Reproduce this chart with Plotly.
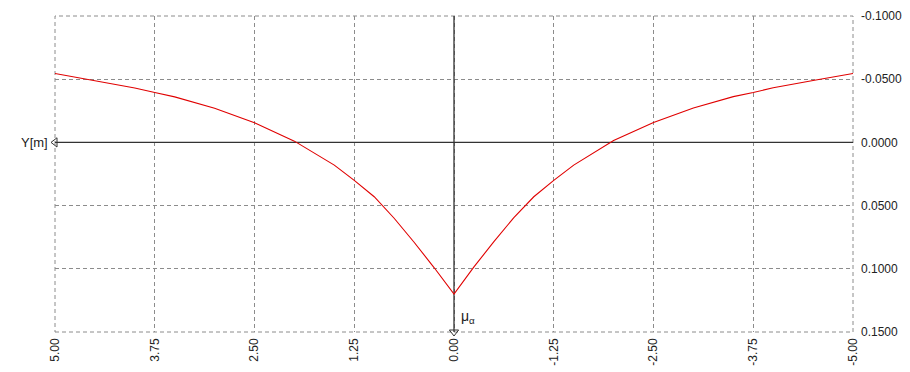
import plotly.graph_objects as go

# data (mu_alpha, Y[m])
mu = [5.00, 4.50, 4.00, 3.75, 3.50, 3.00, 2.50, 2.00, 1.50, 1.25, 1.00, 0.75, 0.50, 0.25, 0.00,
      -0.25, -0.50, -0.75, -1.00, -1.25, -1.50, -2.00, -2.50, -3.00, -3.50, -3.75, -4.00, -4.50, -5.00]
y_m = [-0.0545, -0.0490, -0.0430, -0.0395, -0.0360, -0.0270, -0.0155, -0.0010, 0.0180, 0.0300, 0.0430,
       0.0600, 0.0790, 0.0990, 0.1200,
       0.0985, 0.0785, 0.0595, 0.0430, 0.0300, 0.0180, -0.0015, -0.0158, -0.0272, -0.0362, -0.0395,
       -0.0432, -0.0490, -0.0545]

x_ticks = [5.00, 3.75, 2.50, 1.25, 0.00, -1.25, -2.50, -3.75, -5.00]
y_ticks = [-0.10, -0.05, 0.00, 0.05, 0.10, 0.15]
x_tick_text = [f"{v:.2f}" for v in x_ticks]
y_tick_text = [f"{v:.4f}" for v in y_ticks]

FONT = "Liberation Sans, Arial, sans-serif"
GRID = "#8c8c8c"
DASH = "4px,3px"

fig = go.Figure()

# axis lines through origin
fig.add_trace(go.Scatter(x=[5, -5], y=[0, 0], mode="lines",
                         line=dict(color="#333333", width=1.3), hoverinfo="skip"))
fig.add_trace(go.Scatter(x=[0, 0], y=[-0.1, 0.15], mode="lines",
                         line=dict(color="#333333", width=1.3), hoverinfo="skip"))
# arrow markers
fig.add_trace(go.Scatter(x=[5], y=[0], mode="markers", cliponaxis=False,
                         marker=dict(symbol="triangle-left-open", size=8,
                                     color="#333333", line=dict(width=1)), hoverinfo="skip"))
fig.add_trace(go.Scatter(x=[0], y=[0.15], mode="markers", cliponaxis=False,
                         marker=dict(symbol="triangle-down-open", size=8,
                                     color="#333333", line=dict(width=1)), hoverinfo="skip"))

# curve
fig.add_trace(go.Scatter(x=mu, y=y_m, mode="lines",
                         line=dict(color="#e00000", width=1.1), hoverinfo="skip"))

fig.update_layout(
    width=910, height=372,
    margin=dict(l=55, r=57, t=16, b=40),
    paper_bgcolor="white", plot_bgcolor="white",
    showlegend=False,
    font=dict(family=FONT, size=12, color="#222222"),
    xaxis=dict(range=[5, -5], tickvals=x_ticks, ticktext=x_tick_text, tickangle=-90,
               showgrid=True, gridcolor=GRID, griddash=DASH, gridwidth=1,
               zeroline=False, showline=False, ticks="", ticklabelstandoff=3,
               automargin=False),
    yaxis=dict(range=[0.15, -0.10], tickvals=y_ticks, ticktext=y_tick_text, side="right",
               showgrid=True, gridcolor=GRID, griddash=DASH, gridwidth=1,
               zeroline=False, showline=False, ticks="", ticklabelstandoff=7,
               automargin=False),
    shapes=[dict(type="rect", xref="paper", yref="paper", x0=0, y0=0, x1=1, y1=1,
                 line=dict(color=GRID, width=1, dash=DASH), layer="below")],
    annotations=[
        dict(x=5, y=0, xref="x", yref="y", text="Y[m]", showarrow=False,
             xanchor="right", yanchor="middle", xshift=-5, font=dict(size=13)),
        dict(x=0, y=0.15, xref="x", yref="y", text="μ<sub>α</sub>", showarrow=False,
             xanchor="left", yanchor="bottom", xshift=5, yshift=4, font=dict(size=14)),
    ],
)

fig.write_html("out.html", config={"displayModeBar": False},
               post_script="document.body.style.margin='0';")
